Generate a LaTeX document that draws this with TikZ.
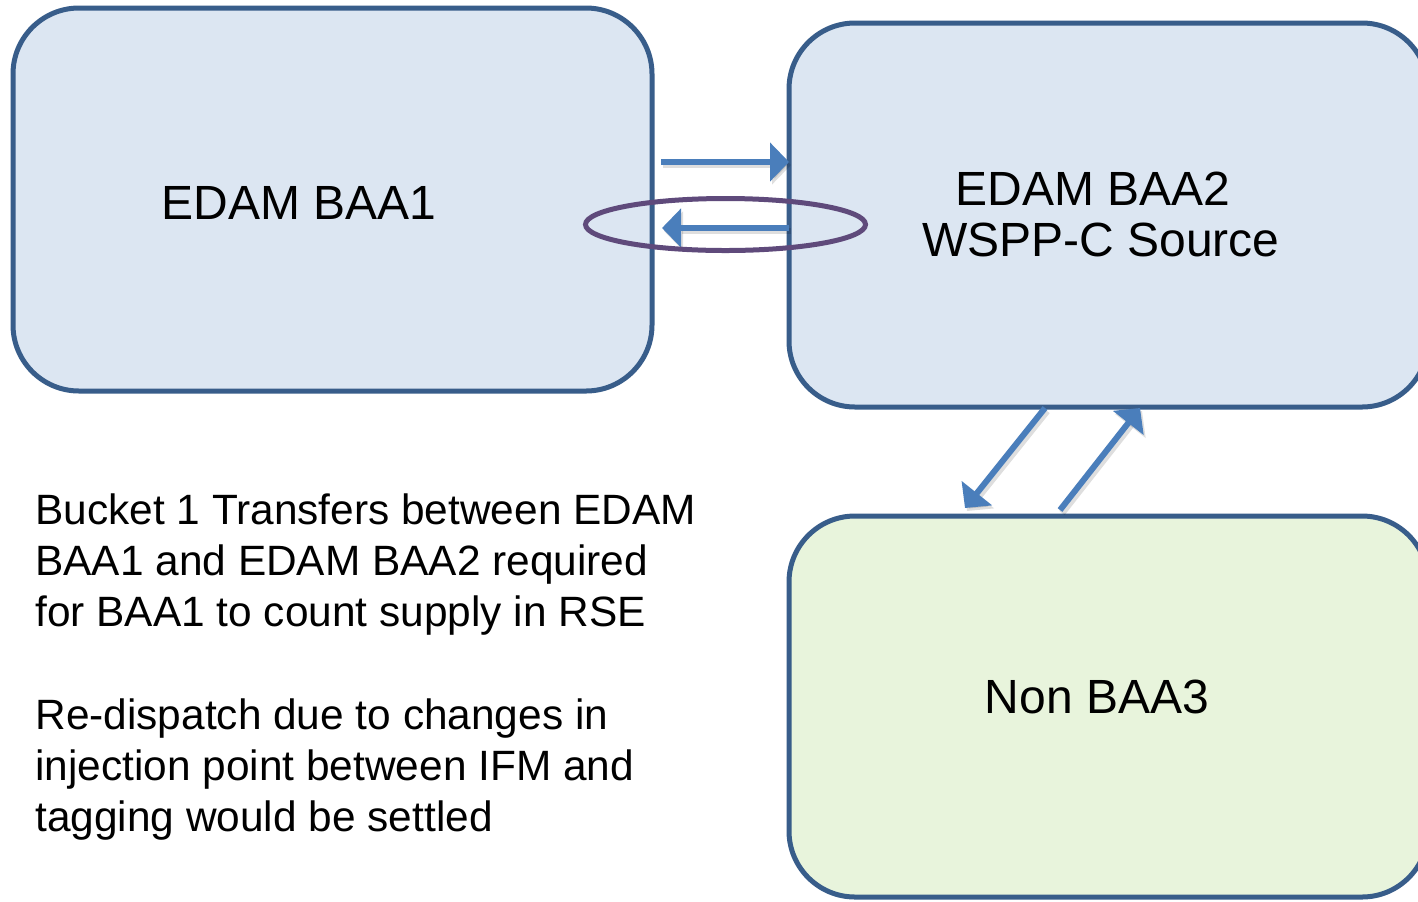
\documentclass[tikz,border=0pt]{standalone}
\usepackage{fontspec}
\setmainfont{Liberation Sans}
\usetikzlibrary{arrows.meta,calc,shapes.geometric}
\definecolor{bordc}{HTML}{385D8A}
\definecolor{bluefill}{HTML}{DCE6F2}
\definecolor{greenfill}{HTML}{E8F4DC}
\definecolor{arrc}{HTML}{4A7EBB}
\definecolor{purp}{HTML}{5F4A7B}
\begin{document}
\begin{tikzpicture}[x=0.5pt,y=-0.5pt,
  box/.style={draw=bordc,line width=2.5pt,rounded corners=33pt,inner sep=0pt,outer sep=0pt},
  lbl/.style={font=\fontsize{24}{25}\selectfont,inner sep=0pt},
  para/.style={font=\fontsize{21.2}{25.5}\selectfont,inner sep=0pt,anchor=base west},
  arr/.style={draw=arrc,line width=3pt,-{Triangle[length=9.5pt,width=19pt]}},
  shad/.style={draw=black,opacity=0.13,line width=3.4pt,-{Triangle[length=9.5pt,width=19pt]}},
]
\clip (0,0) rectangle (1418,901);
\fill[white] (0,0) rectangle (1418,901);

% boxes
\node[box,fill=bluefill,minimum width=319.5pt,minimum height=191.5pt] (baa1) at (332.5,199.5) {};
\node[box,fill=bluefill,minimum width=319.5pt,minimum height=192pt] (baa2) at (1108.5,215) {};
\node[box,fill=greenfill,minimum width=319.5pt,minimum height=190.5pt] (baa3) at (1108.5,706.5) {};

% box labels
\node[lbl] (t1) at (299,203) {EDAM BAA1};
\node[lbl,anchor=base] (t2a) at (1093,205) {EDAM BAA2};
\node[lbl,anchor=base] (t2b) at (1101,256) {WSPP-C Source};
\node[lbl,anchor=base] (t3) at (1097,713) {Non BAA3};

% paragraph text
\node[para] (p1) at (35,524) {Bucket 1 Transfers between EDAM};
\node[para] (p2) at (35,575) {BAA1 and EDAM BAA2 required};
\node[para] (p3) at (35,626) {for BAA1 to count supply in RSE};
\node[para] (p4) at (35,729) {Re-dispatch due to changes in};
\node[para] (p5) at (35,780) {injection point between IFM and};
\node[para] (p6) at (35,831) {tagging would be settled};

% connector end points
\coordinate (a1s) at (baa1.east |- 0,162);
\coordinate (a1e) at (baa2.west |- 0,162);
\coordinate (a2s) at (baa2.west |- 0,228);
\coordinate (a2e) at (baa1.east |- 0,228);
\coordinate (a3s) at (1045,408);
\coordinate (a3e) at (965,508);
\coordinate (a4s) at (1060,510);
\coordinate (a4e) at (1140,408);

% shadows
\draw[shad] ($(a1s)+(11,3)$) -- ($(a1e)+(2,3)$);
\draw[shad] ($(a2s)+(2,3)$) -- ($(a2e)+(12,3)$);
\draw[shad] ($(a3s)+(2,3)$) -- ($(a3e)+(2,3)$);
\draw[shad] ($(a4s)+(2,3)$) -- ($(a4e)+(2,3)$);

% arrows
\draw[arr] ($(a1s)+(9,0)$) -- (a1e);
\draw[arr] (a2s) -- ($(a2e)+(10,0)$);
\draw[arr] (a3s) -- (a3e);
\draw[arr] (a4s) -- (a4e);

% loop ellipse
\node[draw=purp,line width=2.5pt,ellipse,minimum width=140pt,minimum height=26pt,inner sep=0pt] (loop) at (725.5,224.5) {};
\end{tikzpicture}
\end{document}
